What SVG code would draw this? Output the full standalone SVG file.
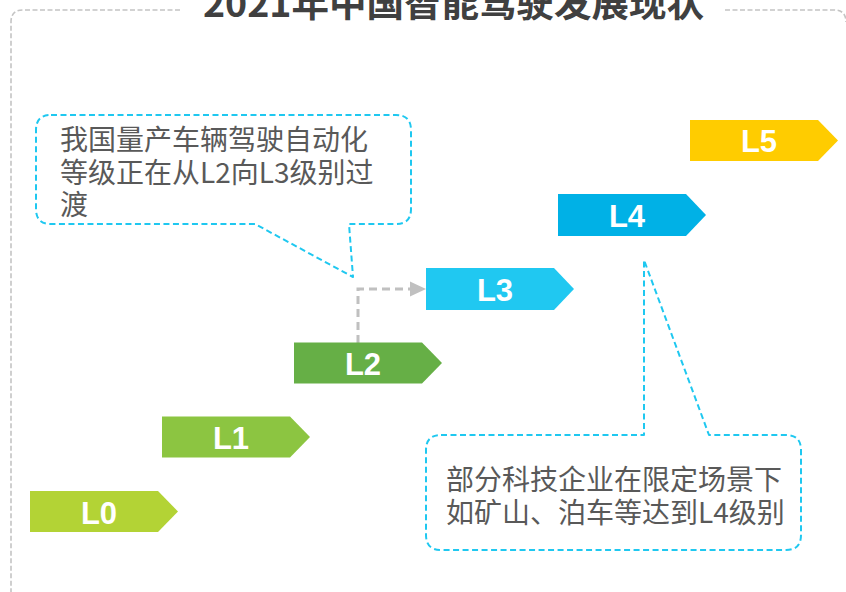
<svg xmlns="http://www.w3.org/2000/svg" width="846" height="592" viewBox="0 0 846 592">
<defs>
<style>
.frame{fill:none;stroke:#c4c4c4;stroke-width:1.6;stroke-dasharray:5 2.5}
.title{font-family:"Noto Sans CJK SC","Noto Sans",sans-serif;font-weight:bold;font-size:37px;fill:#404040}
.lbl{font-family:"Liberation Sans",Arial,sans-serif;font-weight:bold;font-size:31px;fill:#ffffff;text-anchor:middle}
.callout{fill:none;stroke:#1fc8f0;stroke-width:2;stroke-dasharray:6 3.5;stroke-linejoin:round}
.ctext{font-family:"Noto Sans CJK SC","Noto Sans",sans-serif;font-size:28px;fill:#595959}
.conn{fill:none;stroke:#c0c0c0;stroke-width:3;stroke-dasharray:8 5}
.head{fill:#c0c0c0}
</style>
</defs>
<rect width="846" height="592" fill="#ffffff"/>
<g id="frame">
<path class="frame" d="M180,10 H23 Q11,10 11,22 V592"/>
<path class="frame" d="M725,10 H834 Q846,10 846,22"/>
<text class="title" x="203" y="17" textLength="501" lengthAdjust="spacingAndGlyphs">2021年中国智能驾驶发展现状</text>
</g>
<g id="connectors">
<path class="conn" d="M358,343 V289 H411"/>
<polygon class="head" points="410,281.5 426,289 410,296.5"/>
</g>
<g id="L0">
<polygon points="30,491 158,491 178,511.5 158,532 30,532" fill="#b3d335"/>
<text class="lbl" x="99" y="523.5">L0</text>
</g>
<g id="L1">
<polygon points="162,416.5 290,416.5 310,437 290,457.5 162,457.5" fill="#8cc541"/>
<text class="lbl" x="231" y="448.5">L1</text>
</g>
<g id="L2">
<polygon points="294,342.5 422,342.5 442,363 422,383.5 294,383.5" fill="#66af46"/>
<text class="lbl" x="363" y="374.5">L2</text>
</g>
<g id="L3">
<polygon points="426,268 554,268 574,289 554,310 426,310" fill="#20c8f1"/>
<text class="lbl" x="495" y="300.5">L3</text>
</g>
<g id="L4">
<polygon points="558,194 686,194 706,215 686,236 558,236" fill="#00b1e6"/>
<text class="lbl" x="627" y="226.5">L4</text>
</g>
<g id="L5">
<polygon points="690,120 818,120 838,140.5 818,161 690,161" fill="#ffcc00"/>
<text class="lbl" x="759" y="152">L5</text>
</g>
<g id="callout1">
<path class="callout" d="M51,115 H396 Q411,115 411,130 V209 Q411,224 396,224 H349 L353,277 L255,224 H51 Q36,224 36,209 V130 Q36,115 51,115 Z"/>
<text class="ctext" x="60" y="150">我国量产车辆驾驶自动化</text>
<text class="ctext" x="60" y="183">等级正在从L2向L3级别过</text>
<text class="ctext" x="60" y="215">渡</text>
</g>
<g id="callout2">
<path class="callout" d="M441,435 H644 V260 L709,435 H786 Q801,435 801,450 V535 Q801,550 786,550 H441 Q426,550 426,535 V450 Q426,435 441,435 Z"/>
<text class="ctext" x="446" y="490">部分科技企业在限定场景下</text>
<text class="ctext" x="446" y="523">如矿山、泊车等达到L4级别</text>
</g>
</svg>
